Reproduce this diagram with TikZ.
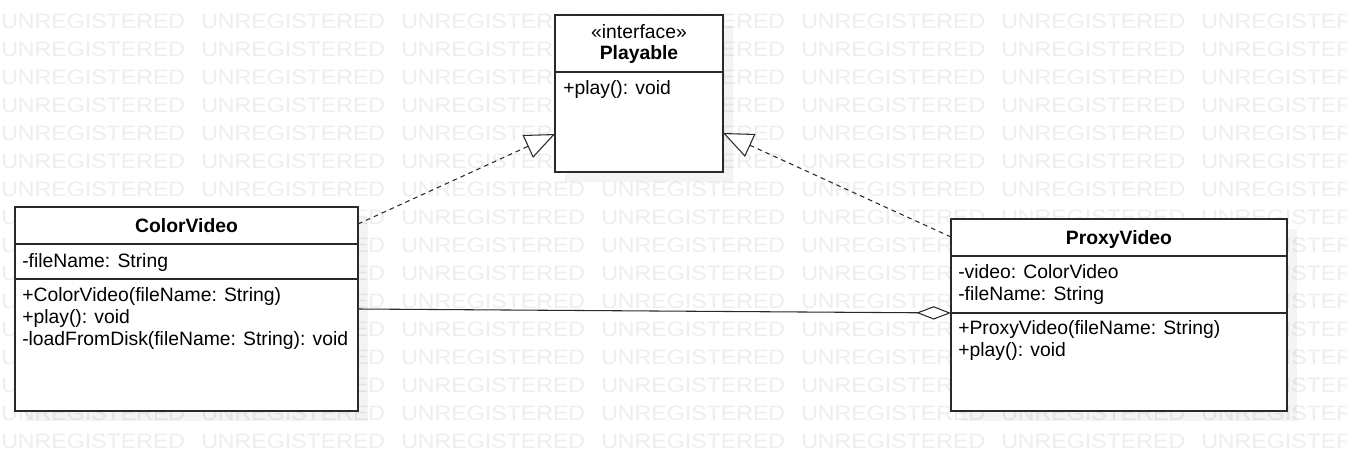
\documentclass[tikz,border=0pt]{standalone}
\usepackage{fontspec}
\setmainfont{Liberation Sans}
\usetikzlibrary{arrows.meta,calc}
\definecolor{wmc}{HTML}{EEEEEE}
\definecolor{ln}{HTML}{2A2A2A}
\begin{document}
\begin{tikzpicture}[x=0.75pt,y=-0.75pt,
  box/.style={draw=ln,line width=1.1pt,fill=white,inner sep=0pt,outer sep=0pt,anchor=north west},
  shadowbox/.style={fill=black,opacity=0.045},
  sep/.style={draw=ln,line width=1.1pt},
  txt/.style={anchor=base west,inner sep=0pt,font=\fontsize{14.5}{17}\selectfont},
  ttl/.style={anchor=base,inner sep=0pt,font=\fontsize{14.5}{17}\selectfont\bfseries},
  wm/.style={anchor=base west,inner sep=0pt,text=wmc,font=\fontsize{15.7}{18}\selectfont},
  real/.style={draw=ln,line width=0.8pt,dash pattern=on 3.5pt off 3pt,-{Triangle[open,length=22.5pt,width=18.75pt,fill=white]}},
  agg/.style={draw=ln,line width=0.8pt,-{Diamond[open,length=26pt,width=10pt,fill=white]}}]
\useasboundingbox (0,0) rectangle (1347,471);
\clip (0,0) rectangle (1347,471);
\fill[white] (0,0) rectangle (1347,471);
% watermark
\foreach \k in {0,...,15}{
  \foreach \j in {0,...,6}{
    \node[wm] (wm-\k-\j) at ({1+200*\j},{28+28*\k}) {\scalebox{1.106}[1]{UNREGISTERED}};
  }
}
% shadows
\fill[shadowbox] (565,25) rectangle (733,182);
\fill[shadowbox] (25,217) rectangle (368,421);
\fill[shadowbox] (961,229) rectangle (1297,421);
% Playable
\node[box,minimum width=126pt,minimum height=117.75pt] (pl) at (555,15) {};
\draw[sep] (555,72) -- (723,72);
\node[anchor=base,inner sep=0pt,font=\fontsize{14.5}{17}\selectfont] (pl-st) at (639,38) {«interface»};
\node[ttl] (pl-t) at (639,59) {Playable};
\node[txt] (pl-m1) at (563,94) {+play(): void};
% ColorVideo
\node[box,minimum width=257.25pt,minimum height=153pt] (cv) at (15,207) {};
\draw[sep] (15,244) -- (358,244);
\draw[sep] (15,279) -- (358,279);
\node[ttl] (cv-t) at (186.5,232) {ColorVideo};
\node[txt] (cv-a1) at (22,267) {-fileName: String};
\node[txt] (cv-m1) at (22,301) {+ColorVideo(fileName: String)};
\node[txt] (cv-m2) at (22,323) {+play(): void};
\node[txt] (cv-m3) at (22,345) {-loadFromDisk(fileName: String): void};
% ProxyVideo
\node[box,minimum width=252pt,minimum height=144pt] (pv) at (951,219) {};
\draw[sep] (951,256) -- (1287,256);
\draw[sep] (951,313) -- (1287,313);
\node[ttl] (pv-t) at (1119,244) {ProxyVideo};
\node[txt] (pv-a1) at (958,278) {-video: ColorVideo};
\node[txt] (pv-a2) at (958,300) {-fileName: String};
\node[txt] (pv-m1) at (958,334) {+ProxyVideo(fileName: String)};
\node[txt] (pv-m2) at (958,356) {+play(): void};
% connectors
\draw[real] ($(cv.north east)+(0,17)$) -- ($(pl.north west)+(0,119)$);
\draw[real] ($(pv.north west)+(0,18)$) -- ($(pl.north east)+(0,118)$);
\draw[agg] ($(cv.north east)+(0,102)$) -- ($(pv.north west)+(0,94)$);
\end{tikzpicture}
\end{document}
